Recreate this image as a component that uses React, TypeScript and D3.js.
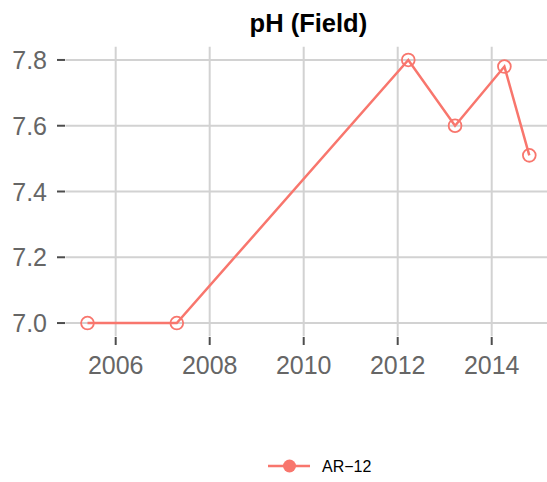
import React from "react";
import * as d3 from "d3";

const years = [2005.4, 2007.3, 2012.225, 2013.22, 2014.27, 2014.8];
const phValues = [7.0, 7.0, 7.8, 7.6, 7.78, 7.51];
const xTicks = [2006, 2008, 2010, 2012, 2014];
const yTicks = [7.0, 7.2, 7.4, 7.6, 7.8];
const seriesName = "AR\u221212";
const title = "pH (Field)";

const W = 547;
const H = 482;
const color = "#F8766D";
const font = "'Liberation Sans', Arial, Helvetica, sans-serif";

export default function App() {
  const x = d3.scaleLinear().domain([2004.93, 2015.27]).range([65.4, 551.4]);
  const y = d3.scaleLinear().domain([6.96, 7.84]).range([336.2, 46.8]);
  const [x0, x1] = x.range();
  const [yb, yt] = y.range();
  const pts = years.map((yr, i) => [x(yr), y(phValues[i])] as [number, number]);
  const line = d3.line()(pts) || "";
  return (
    <svg width={W} height={H} style={{ position: "absolute", left: 0, top: 0, background: "#fff" }}>
      <rect x={0} y={0} width={W} height={H} fill="#fff" />
      <text x={(x0 + x1) / 2} y={31.5} textAnchor="middle" fontFamily={font} fontWeight="bold" fontSize={25.5} fill="#000">
        {title}
      </text>
      {xTicks.map((t) => (
        <line key={"gx" + t} x1={x(t)} x2={x(t)} y1={yt} y2={yb} stroke="#d2d2d2" strokeWidth={2} />
      ))}
      {yTicks.map((t) => (
        <line key={"gy" + t} x1={x0} x2={x1} y1={y(t)} y2={y(t)} stroke="#d2d2d2" strokeWidth={2} />
      ))}
      {yTicks.map((t) => (
        <g key={"ty" + t}>
          <line x1={57} x2={65} y1={y(t)} y2={y(t)} stroke="#4d4d4d" strokeWidth={2} />
          <text x={47} y={y(t)} dy="0.36em" textAnchor="end" fontFamily={font} fontSize={25} fill="#666">
            {t.toFixed(1)}
          </text>
        </g>
      ))}
      {xTicks.map((t) => (
        <g key={"tx" + t}>
          <line x1={x(t)} x2={x(t)} y1={337} y2={345} stroke="#4d4d4d" strokeWidth={2} />
          <text x={x(t)} y={373.5} textAnchor="middle" fontFamily={font} fontSize={25} fill="#666">
            {t}
          </text>
        </g>
      ))}
      <path d={line} fill="none" stroke={color} strokeWidth={2.5} />
      {pts.map((p, i) => (
        <circle key={"p" + i} cx={p[0]} cy={p[1]} r={6.4} fill="none" stroke={color} strokeWidth={1.8} />
      ))}
      <g>
        <line x1={268} x2={310} y1={466} y2={466} stroke={color} strokeWidth={2.5} />
        <circle cx={289.5} cy={466} r={6.5} fill={color} />
        <text x={322} y={466} dy="0.36em" fontFamily={font} fontSize={16} fill="#000">
          {seriesName}
        </text>
      </g>
    </svg>
  );
}
